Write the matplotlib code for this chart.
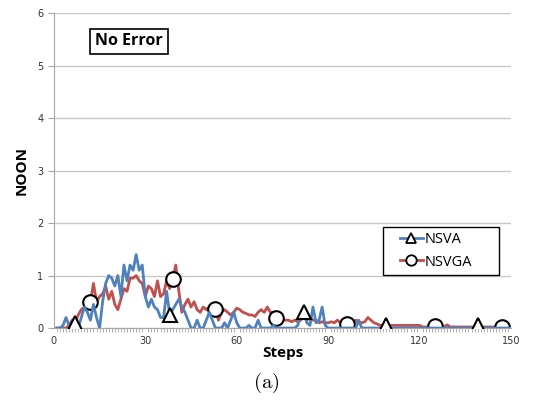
import numpy as np
import matplotlib
matplotlib.use("Agg")
import matplotlib.pyplot as plt
from matplotlib.ticker import MultipleLocator
from matplotlib.patches import Rectangle
from matplotlib.lines import Line2D

plt.rcParams['mathtext.fontset'] = 'cm'

steps = np.arange(1, 151)

# NOON per step, NSVA
nsva = [0, 0, 0.05, 0.2, 0.05, 0, 0.1, 0, 0.2, 0.4,
        0.3, 0.15, 0.45, 0.2, 0, 0.5, 0.85, 1.0, 0.95, 0.8,
        1.0, 0.6, 1.2, 0.9, 1.2, 1.1, 1.4, 1.1, 1.2, 0.6,
        0.4, 0.55, 0.4, 0.35, 0.2, 0.2, 0.7, 0.25, 0.35, 0.45,
        0.55, 0.4, 0.3, 0.15, 0, 0, 0.15, 0, 0, 0.15,
        0.3, 0.15, 0, 0, 0, 0.1, 0, 0.15, 0.3, 0.1,
        0, 0, 0, 0.05, 0, 0, 0.15, 0, 0, 0,
        0, 0.05, 0, 0, 0, 0, 0, 0, 0, 0.05,
        0.25, 0.3, 0.1, 0.05, 0.4, 0.1, 0.15, 0.4, 0.05, 0,
        0, 0, 0, 0, 0, 0, 0, 0, 0, 0.15,
        0, 0, 0, 0, 0, 0, 0, 0, 0.05, 0,
        0, 0, 0, 0, 0, 0, 0, 0, 0, 0,
        0, 0, 0, 0, 0, 0, 0, 0, 0, 0,
        0, 0, 0, 0, 0, 0, 0, 0, 0.05, 0,
        0, 0, 0, 0, 0, 0, 0, 0, 0, 0]

# NOON per step, NSVGA
nsvga = [0, 0, 0, 0, 0.05, 0.15, 0.1, 0.25, 0.35, 0.4,
         0.35, 0.5, 0.85, 0.5, 0.6, 0.65, 0.8, 0.55, 0.7, 0.45,
         0.35, 0.55, 0.75, 0.7, 0.95, 0.95, 1.0, 0.9, 0.85, 0.6,
         0.8, 0.75, 0.6, 0.9, 0.6, 0.65, 0.9, 0.75, 0.93, 1.2,
         0.7, 0.3, 0.45, 0.55, 0.4, 0.5, 0.35, 0.3, 0.4, 0.35,
         0.4, 0.3, 0.37, 0.15, 0.3, 0.35, 0.3, 0.25, 0.3, 0.38,
         0.35, 0.3, 0.28, 0.25, 0.25, 0.22, 0.3, 0.35, 0.3, 0.4,
         0.3, 0.3, 0.2, 0.2, 0.15, 0.15, 0.15, 0.12, 0.15, 0.12,
         0.15, 0.28, 0.15, 0.2, 0.15, 0.15, 0.1, 0.12, 0.1, 0.1,
         0.12, 0.1, 0.15, 0.1, 0.1, 0.08, 0.1, 0.1, 0.15, 0.12,
         0.1, 0.12, 0.2, 0.15, 0.1, 0.08, 0.05, 0.05, 0.05, 0.05,
         0.05, 0.05, 0.05, 0.05, 0.05, 0.05, 0.05, 0.05, 0.05, 0.05,
         0.02, 0.02, 0.02, 0.02, 0.03, 0.02, 0.02, 0.02, 0.06, 0.02,
         0.02, 0.02, 0.02, 0.02, 0.02, 0.02, 0.02, 0.02, 0.02, 0.02,
         0.02, 0.02, 0.02, 0.02, 0.02, 0.02, 0.02, 0.02, 0.02, 0.02]

# steps that carry a marker
nsva_marks = [7, 38, 82, 109, 139]
nsvga_marks = [12, 39, 53, 73, 96, 125, 147]

blue = '#4F81BD'
red = '#C0504D'

fig = plt.figure(figsize=(5.33, 4.07), dpi=100)
ax = fig.add_axes([0.101, 0.194, 0.858, 0.774])

mk = dict(markerfacecolor='white', markeredgecolor='black', markeredgewidth=1.5, markersize=10.5)
ax.plot(steps, nsva, color=blue, lw=2, marker='^',
        markevery=[s - 1 for s in nsva_marks], zorder=3, **mk)
ax.plot(steps, nsvga, color=red, lw=2, marker='o',
        markevery=[s - 1 for s in nsvga_marks], zorder=2, **mk)

ax.set_xlim(0, 150)
ax.set_ylim(0, 6)
ax.xaxis.set_major_locator(MultipleLocator(30))
ax.xaxis.set_minor_locator(MultipleLocator(1))
ax.yaxis.set_major_locator(MultipleLocator(1))
ax.yaxis.grid(True, color='#c8c8c8', lw=1)
ax.set_axisbelow(True)
for side in ['top', 'right']:
    ax.spines[side].set_visible(False)
for side in ['left', 'bottom']:
    ax.spines[side].set_color('#a6a6a6')
ax.tick_params(axis='both', which='major', labelsize=7, colors='#a6a6a6',
               labelcolor='#333333', length=4, direction='out')
ax.tick_params(axis='x', which='minor', length=3, color='#a6a6a6', direction='out')
ax.tick_params(axis='x', which='major', length=0, pad=6)

ax.set_xlabel('Steps', fontsize=11, fontweight='bold', family='Open Sans', labelpad=0)
ax.set_ylabel('NOON', fontsize=11, fontweight='bold', family='Open Sans', labelpad=6)

ax.text(0.09, 0.91, 'No Error', transform=ax.transAxes, fontsize=11.5,
        fontweight='bold', family='Open Sans', va='center', ha='left',
        bbox=dict(boxstyle='square,pad=0.3', fc='white', ec='black', lw=1.2))

# legend frame drawn separately so it can be sized freely
ax.add_patch(Rectangle((0.72, 0.168), 0.254, 0.153, transform=ax.transAxes,
                       fc='white', ec='black', lw=1, zorder=4))
lmk = dict(markerfacecolor='white', markeredgecolor='black', markeredgewidth=1.3, markersize=7.5)
handles = [Line2D([], [], color=blue, lw=2, marker='^', **lmk),
           Line2D([], [], color=red, lw=2, marker='o', **lmk)]
leg = ax.legend(handles, ['NSVA', 'NSVGA'], loc='center left', bbox_to_anchor=(0.74, 0.245),
                frameon=False, prop={'family': 'Open Sans', 'size': 10.5},
                handlelength=1.6, handletextpad=0.15, borderpad=0, labelspacing=0.5)
leg.set_zorder(5)

fig.text(0.5, 0.06, r'$\mathrm{(a)}$', ha='center', va='center', fontsize=15)

fig.savefig('out.png', dpi=100)
